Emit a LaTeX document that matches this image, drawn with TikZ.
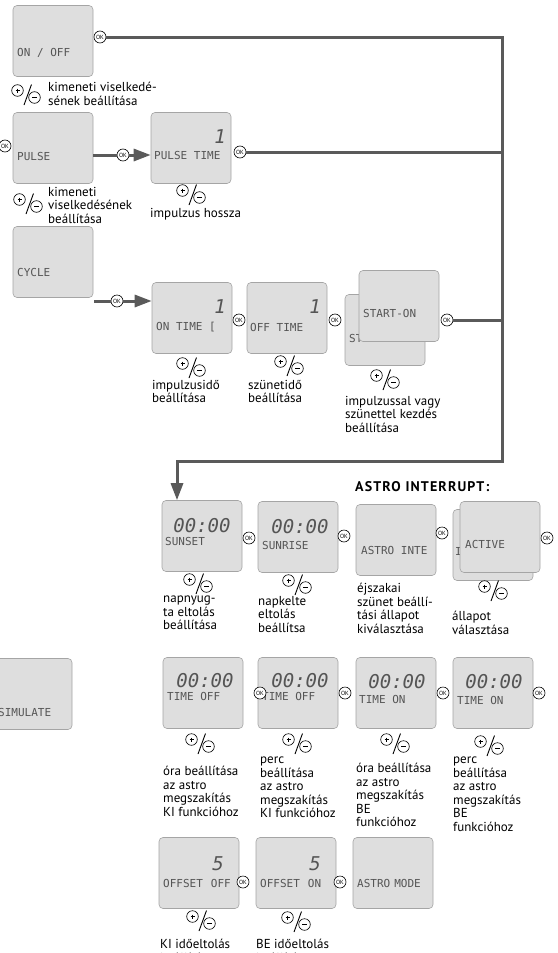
\documentclass[tikz,border=0pt]{standalone}
\usepackage{fontspec}
\setmainfont{PT Sans}
\newfontfamily\lcdfont{DejaVu Sans Mono}
\usetikzlibrary{arrows.meta}

\definecolor{lcdfill}{RGB}{222,222,222}
\definecolor{lcdedge}{RGB}{165,165,165}
\definecolor{lcdtext}{RGB}{85,85,85}
\definecolor{linegray}{RGB}{90,90,90}

\tikzset{
  lcd/.style={draw=lcdedge, fill=lcdfill, rounded corners=4pt, line width=0.6pt,
    minimum width=80pt, minimum height=71pt, inner sep=0pt},
  lcdlbl/.style={anchor=west, inner sep=0pt, text=lcdtext,
    font=\lcdfont\fontsize{11}{11}\selectfont},
  lcdbig/.style={anchor=base, inner sep=0pt, text=lcdtext,
    font=\lcdfont\itshape\fontsize{19}{19}\selectfont},
  okbtn/.style={circle, draw=black, fill=white, line width=0.6pt,
    minimum size=12pt, inner sep=0pt, font=\fontsize{6}{6}\selectfont},
  note/.style={anchor=north west, align=left, inner sep=0pt,
    font=\fontsize{13}{13.5}\selectfont, execute at begin node={\vphantom{l}}},
  conn/.style={draw=linegray, line width=3pt},
  arr/.style={conn, -{Triangle[length=17pt,width=12pt]}},
  plusminus/.pic={
    \draw[line width=0.6pt, fill=white] (-8.5,-3.5) circle[radius=5.8pt];
    \draw[line width=0.5pt] (-10.5,-3.5) -- (-6.5,-3.5) (-8.5,-5.5) -- (-8.5,-1.5);
    \draw[line width=0.6pt, fill=white] (8.5,3.5) circle[radius=5.8pt];
    \draw[line width=0.8pt] (6,3.5) -- (11,3.5);
    \draw[line width=0.9pt] (5.5,-9.5) -- (-2,11);
  }
}

\begin{document}
\begin{tikzpicture}[x=1pt, y=-1pt]
  \useasboundingbox (0,0) rectangle (557,953);

  % ON/OFF, PULSE, CYCLE
  \node[lcd] (onoff) at (53,41) {};
  \node[lcdlbl] (onoff-t) at (17,53) {ON / OFF};
  \node[lcd] (pulse) at (53,148) {};
  \node[lcdlbl] (pulse-t) at (17,156) {PULSE};
  \node[lcd] (pulsetime) at (191,148) {};
  \node[lcdbig, anchor=base east] (pulsetime-n) at (226,143) {1};
  \node[lcdlbl] (pulsetime-t) at (154,155) {PULSE TIME};
  \node[lcd] (cycle) at (53,262) {};
  \node[lcdlbl] (cycle-t) at (17,272) {CYCLE};
  \node[lcd] (ontime) at (192,318) {};
  \node[lcdbig, anchor=base east] (ontime-n) at (226,313) {1};
  \node[lcdlbl] (ontime-t) at (156,327) {ON TIME [};
  \node[lcd] (offtime) at (287,318) {};
  \node[lcdbig, anchor=base east] (offtime-n) at (321,313) {1};
  \node[lcdlbl] (offtime-t) at (250,327) {OFF TIME};
  \node[lcd] (startoff) at (385,330) {};
  \node[lcdlbl] (startoff-t) at (349,338) {ST};
  \node[lcd] (starton) at (399,306) {};
  \node[lcdlbl] (starton-t) at (363,313) {START-ON};

  % ASTRO
  \node[lcd] (sunset) at (202,536) {};
  \node[lcdbig] (sunset-n) at (202,532) {00:00};
  \node[lcdlbl] (sunset-t) at (165,541) {SUNSET};
  \node[lcd] (sunrise) at (298,537) {};
  \node[lcdbig] (sunrise-n) at (300,533) {00:00};
  \node[lcdlbl] (sunrise-t) at (262,545) {SUNRISE};
  \node[lcd] (astroint) at (396,540) {};
  \node[lcdlbl] (astroint-t) at (361,550) {ASTRO INTE};
  \node[lcd] (inactive) at (493,545) {};
  \node[lcdlbl] (inactive-t) at (455,551) {I};
  \node[lcd] (active) at (500,537) {};
  \node[lcdlbl] (active-t) at (465,544) {ACTIVE};
  \node[anchor=west, inner sep=0pt] (astrohead) at (355,487)
    {\bfseries\fontsize{14}{14}\selectfont\addfontfeature{LetterSpace=8}ASTRO INTERRUPT:};

  \node[lcd] (simulate) at (32,694) {};
  \node[lcdlbl] (simulate-t) at (-2,712) {SIMULATE};
  \node[lcd] (offhour) at (203,693) {};
  \node[lcdbig] (offhour-n) at (205,687) {00:00};
  \node[lcdlbl] (offhour-t) at (167,696) {TIME OFF};
  \node[lcd] (offmin) at (298,693) {};
  \node[lcdbig] (offmin-n) at (300,687) {00:00};
  \node[lcdlbl] (offmin-t) at (262,696) {TIME OFF};
  \node[lcd] (onhour) at (396,693) {};
  \node[lcdbig] (onhour-n) at (397,688) {00:00};
  \node[lcdlbl] (onhour-t) at (359,699) {TIME ON};
  \node[lcd] (onmin) at (493,693) {};
  \node[lcdbig] (onmin-n) at (494,688) {00:00};
  \node[lcdlbl] (onmin-t) at (457,700) {TIME ON};

  \node[lcd] (offsetoff) at (199,873) {};
  \node[lcdbig, anchor=base east] (offsetoff-n) at (224,870) {5};
  \node[lcdlbl] (offsetoff-t) at (163,883) {OFFSET\hspace{8pt}OFF};
  \node[lcd] (offseton) at (296,873) {};
  \node[lcdbig, anchor=base east] (offseton-n) at (321,870) {5};
  \node[lcdlbl] (offseton-t) at (260,883) {OFFSET\hspace{8pt}ON};
  \node[lcd] (astromode) at (393,873) {};
  \node[lcdlbl] (astromode-t) at (357,883) {ASTRO\hspace{4pt}MODE};

  % OK gombok
  \node[okbtn] (ok0) at (100,37) {OK};
  \node[okbtn] (okp0) at (5,146) {OK};
  \node[okbtn] (okp1) at (123,155) {OK};
  \node[okbtn] (okp2) at (240,152) {OK};
  \node[okbtn] (okc1) at (117,301) {OK};
  \node[okbtn] (okc2) at (239,320) {OK};
  \node[okbtn] (okc3) at (335,320) {OK};
  \node[okbtn] (okc4) at (447,320) {OK};
  \node[okbtn] (oka1) at (249,538) {OK};
  \node[okbtn] (oka2) at (344,536) {OK};
  \node[okbtn] (oka3) at (442,533) {OK};
  \node[okbtn] (oka4) at (547,538) {OK};
  \node[okbtn] (okt1) at (260,693) {OK};
  \node[okbtn] (okt2) at (345,693) {OK};
  \node[okbtn] (okt3) at (443,693) {OK};
  \node[okbtn] (okt4) at (539,693) {OK};
  \node[okbtn] (oko1) at (243,882) {OK};
  \node[okbtn] (oko2) at (340,882) {OK};

  % vonalak
  \coordinate (bus-top) at (502,37);
  \coordinate (bus-bot) at (502,461);
  \coordinate (bus-left) at (177,461);
  \coordinate (cyc-out) at (94,301);
  \draw[arr] (ok0) -- (bus-top) -- (bus-bot) -- (bus-left) -- (bus-left |- sunset.north);
  \draw[conn] (okp2) -- (okp2 -| bus-top);
  \draw[conn] (okc4) -- (okc4 -| bus-top);
  \draw[conn] (pulse.east |- okp1) -- (okp1);
  \draw[arr] (okp1) -- (okp1 -| pulsetime.west);
  \draw[conn] (cyc-out) -- (okc1);
  \draw[arr] (okc1) -- (okc1 -| ontime.west);

  % +/- jelek
  \pic (pm1) at (26,94) {plusminus};
  \pic (pm2) at (28,203) {plusminus};
  \pic (pm3) at (191,194) {plusminus};
  \pic (pm4) at (191,367) {plusminus};
  \pic (pm5) at (289,365) {plusminus};
  \pic (pm6) at (385,379) {plusminus};
  \pic (pm7) at (198,583) {plusminus};
  \pic (pm8) at (297,584) {plusminus};
  \pic (pm9) at (493,590) {plusminus};
  \pic (pm10) at (200,743) {plusminus};
  \pic (pm11) at (297,743) {plusminus};
  \pic (pm12) at (395,743) {plusminus};
  \pic (pm13) at (489,745) {plusminus};
  \pic (pm14) at (201,920) {plusminus};
  \pic (pm15) at (296,921) {plusminus};

  % feliratok
  \node[note] (n1) at (48,82) {kimeneti viselkedé-\\sének beállítása};
  \node[note] (n2) at (48,187) {kimeneti\\viselkedésének\\beállítása};
  \node[note] (n3) at (150,208) {impulzus hossza};
  \node[note] (n4) at (152,380) {impulzusidő\\beállítása};
  \node[note] (n5) at (248,380) {szünetidő\\beállítása};
  \node[note] (n6) at (345,396) {impulzussal vagy\\szünettel kezdés\\beállítása};
  \node[note] (n7) at (163,596) {napnyug-\\ta eltolás\\beállítása};
  \node[note] (n8) at (258,596) {napkelte\\eltolás\\beállítsa};
  \node[note] (n9) at (357,583) {éjszakai\\szünet beállí-\\tási állapot\\kiválasztása};
  \node[note] (n10) at (452,611) {állapot\\választása};
  \node[note] (n11) at (163,766) {óra beállítása\\az astro\\megszakítás\\KI funkcióhoz};
  \node[note] (n12) at (260,757) {perc\\beállítása\\az astro\\megszakítás\\KI funkcióhoz};
  \node[note] (n13) at (356,763) {óra beállítása\\az astro\\megszakítás\\BE\\funkcióhoz};
  \node[note] (n14) at (453,757) {perc\\beállítása\\az astro\\megszakítás\\BE\\funkcióhoz};
  \node[note] (n15) at (160,939) {KI időeltolás\\beállítása};
  \node[note] (n16) at (256,939) {BE időeltolás\\beállítása};
\end{tikzpicture}
\end{document}
